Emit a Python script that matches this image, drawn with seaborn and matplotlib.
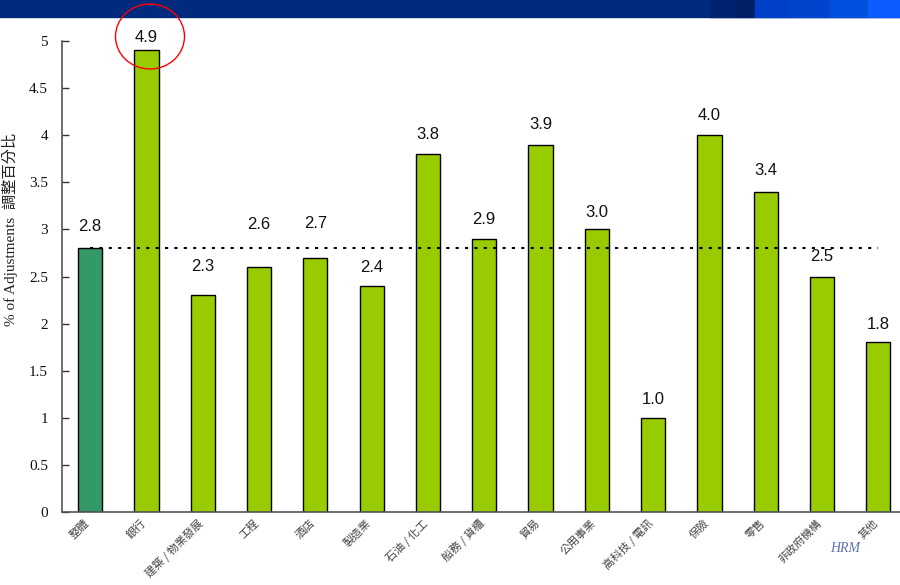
import matplotlib
matplotlib.use("Agg")
import matplotlib.pyplot as plt
import matplotlib.patches as mpatches
import matplotlib.transforms as mtransforms
import seaborn as sns
import pandas as pd

# ---- data ----
categories = ["整體", "銀行", "建築 / 物業發展", "工程", "酒店", "製造業", "石油 / 化工",
              "船務 / 貨櫃", "貿易", "公用事業", "高科技 / 電訊", "保險", "零售", "非政府機構", "其他"]
values = [2.8, 4.9, 2.3, 2.6, 2.7, 2.4, 3.8, 2.9, 3.9, 3.0, 1.0, 4.0, 3.4, 2.5, 1.8]
overall_value = 2.8
y_ticks = [0, 0.5, 1, 1.5, 2, 2.5, 3, 3.5, 4, 4.5, 5]
y_tick_labels = ["0", "0.5", "1", "1.5", "2", "2.5", "3", "3.5", "4", "4.5", "5"]

# ---- style ----
sns.set_theme(style="white")
plt.rcParams["font.family"] = ["Noto Sans CJK TC", "DejaVu Sans"]

overall_color = "#339966"
bar_color = "#99CC00"
palette = [overall_color] + [bar_color] * (len(categories) - 1)
# extra vertical offset (pixels) of value labels above bar tops
label_offsets = [22, 13, 29, 43, 34, 18, 20, 19, 20, 17, 18, 20, 21, 20, 18]

df = pd.DataFrame({"cat": categories, "val": values})

fig = plt.figure(figsize=(9, 5.85), dpi=100)
ax = fig.add_axes([62 / 900, 1 - 512 / 585, 838 / 900, 471 / 585])

sns.barplot(data=df, x="cat", y="val", hue="cat", palette=palette, legend=False,
            width=0.43, edgecolor="black", linewidth=1.0, saturation=1, ax=ax)

ax.set_xlim(-0.5, 14.385)
ax.set_ylim(0, 5)

# dotted overall line
ax.hlines(overall_value, 0, len(categories) - 1, colors="black",
          linestyles=(0, (1.5, 3)), linewidth=1.5, zorder=5)

# value labels
for i, (v, off) in enumerate(zip(values, label_offsets)):
    ax.annotate(f"{v:.1f}", (i, v), xytext=(0, off), textcoords="offset pixels",
                ha="center", va="center", fontsize=12, color="#111111",
                family=["Liberation Sans", "DejaVu Sans"], zorder=6)

# axes styling
for s in ["top", "right"]:
    ax.spines[s].set_visible(False)
for s in ["left", "bottom"]:
    ax.spines[s].set_color("#555555")
    ax.spines[s].set_linewidth(1.2)

ax.set_yticks(y_ticks)
ax.set_yticklabels(y_tick_labels, family=["Liberation Serif", "DejaVu Serif"], fontsize=11,
                   color="#111111")
ax.tick_params(axis="y", direction="in", length=5, width=1, color="#333333", pad=10, left=True)
ax.tick_params(axis="x", length=0, pad=4)

ax.set_xticks(range(len(categories)))
ax.set_xticklabels(categories, rotation=45, ha="right", va="top", rotation_mode="anchor",
                   fontsize=8, color="#444444",
                   family=["Noto Sans CJK TC", "DejaVu Sans"])
shift = mtransforms.ScaledTranslation(-6 / 100, 0, fig.dpi_scale_trans)
for lbl in ax.get_xticklabels():
    lbl.set_transform(lbl.get_transform() + shift)

ax.set_xlabel("")
ax.set_ylabel("% of Adjustments  調整百分比", fontsize=11, color="#222222",
              family=["Liberation Serif", "Noto Sans CJK TC"])
ax.yaxis.set_label_coords(-0.052, 0.6)

# top banner
fig.patches.append(mpatches.Rectangle((0, 1 - 17 / 585), 1, 17 / 585,
                                      transform=fig.transFigure, color="#012A7F", zorder=0))
for x0, x1, c in [(710, 735, "#00236F"), (735, 755, "#001F66"), (755, 790, "#0040C8"),
                  (790, 830, "#0044CC"), (830, 868, "#0050DD"), (868, 900, "#0A5CFF")]:
    fig.patches.append(mpatches.Rectangle((x0 / 900, 1 - 17 / 585), (x1 - x0) / 900, 17 / 585,
                                          transform=fig.transFigure, color=c, zorder=0))

# red ellipse highlight
fig.patches.append(mpatches.Ellipse((150 / 900, 1 - 36.5 / 585), 69 / 900, 65 / 585,
                                    transform=fig.transFigure, fill=False,
                                    edgecolor="red", linewidth=1.0, zorder=10))

# logo text
fig.text(845 / 900, 1 - 548 / 585, "HRM", fontsize=10, style="italic", color="#3A4FA0",
         family=["Liberation Serif", "DejaVu Serif"], ha="center", va="center", alpha=0.8)

fig.savefig("out.png", dpi=100)
